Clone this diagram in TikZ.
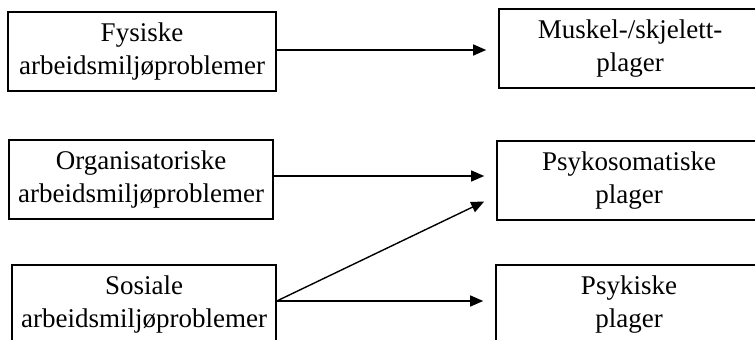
\documentclass[tikz,border=0pt]{standalone}
\usepackage{fontspec}
\setmainfont{Liberation Serif}
\usetikzlibrary{arrows.meta}
\begin{document}
\begin{tikzpicture}[x=1pt,y=-1pt,
  box/.style={draw=black, line width=1.6pt, rectangle, inner sep=0pt,
    align=center, font=\fontsize{27}{33}\selectfont},
  link/.style={draw=black, line width=1.4pt,
    -{Triangle[length=13pt,width=11pt]}, shorten >=12pt}]
  \useasboundingbox (0,0) rectangle (755,340);
  \clip (0,0) rectangle (755,340);

  % causes (left column)
  \node[box, minimum width=268pt, minimum height=79pt] (fys) at (142,51.5)
    {Fysiske\\arbeidsmiljøproblemer};
  \node[box, minimum width=264pt, minimum height=79pt] (org) at (141,179.5)
    {Organisatoriske\\arbeidsmiljøproblemer};
  \node[box, minimum width=264pt, minimum height=80pt] (sos) at (144,305)
    {Sosiale\\arbeidsmiljøproblemer};

  % complaints (right column)
  \node[box, minimum width=262pt, minimum height=79pt] (musk) at (630,48.5)
    {Muskel-/skjelett-\\plager};
  \node[box, minimum width=264pt, minimum height=79pt] (psom) at (629,180.5)
    {Psykosomatiske\\plager};
  \node[box, minimum width=266pt, minimum height=80pt] (psyk) at (629,305)
    {Psykiske\\plager};

  % arrows
  \draw[link] ([yshift=1.5pt]fys.east) -- ([yshift=1.5pt]fys.east -| musk.west);
  \draw[link] ([yshift=3.5pt]org.east) -- ([yshift=3.5pt]org.east -| psom.west);
  \coordinate (diagend) at ([xshift=-12pt,yshift=-21pt]psom.west);
  \draw[link, shorten >=0pt] ([yshift=4pt]sos.east) -- (diagend);
  \draw[link] ([yshift=4pt]sos.east) -- ([yshift=4pt]sos.east -| psyk.west);
\end{tikzpicture}
\end{document}
